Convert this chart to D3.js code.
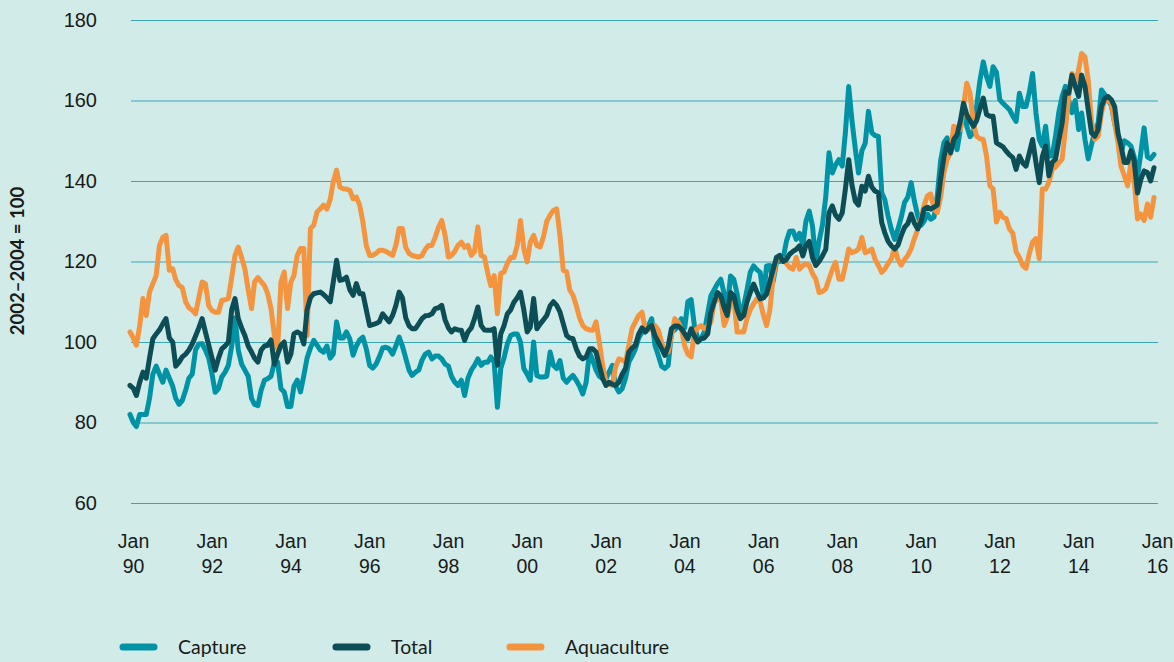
<!DOCTYPE html>
<html>
<head>
<meta charset="utf-8">
<script src="https://cdn.jsdelivr.net/npm/d3@7"></script>
<style>
  html, body { margin: 0; padding: 0; background: #d0ebe8; }
  svg { display: block; font-family: Lato, "Open Sans", sans-serif; }
</style>
</head>
<body>
<svg id="chart" width="1174" height="662"></svg>
<script>
// Monthly fish price index, 2002–2004 = 100, January 1990 to January 2016
const seriesNames = ["Capture", "Total", "Aquaculture"];
const firstMonth = new Date(1990, 0, 1);

const capture = [
  82, 80, 79, 82, 82, 82, 86, 92, 94, 92, 90, 93,
  91, 89, 86, 84.5, 85.5, 88, 91, 92, 98, 99.5, 99.6, 98,
  96, 92, 87.5, 88.5, 91.3, 92.5, 94.2, 99, 106, 98, 94.5, 93,
  91.5, 86, 84.5, 84.2, 88, 90.5, 90.9, 91.5, 95, 95, 88.4, 87.6,
  84, 84, 89, 90.5, 87.6, 91.7, 96, 98.5, 100.4, 99.2, 98, 97.5,
  99, 96, 97, 105, 101, 101, 102.5, 100.8, 96.7, 99, 100.5, 101.2,
  98.3, 94.2, 93.5, 94.5, 96.3, 98.5, 98.7, 98.3, 97, 99, 101.2, 99,
  96, 93, 91.7, 92.5, 93, 95.5, 97, 97.5, 95.8, 96.5, 96.5, 95.8,
  94.5, 94, 91.5, 90, 89.2, 90.5, 86.7, 91, 93, 94.2, 95.8, 94.2,
  95, 95, 96.3, 95, 83.8, 93.4, 96, 99.5, 101.6, 102, 102, 100,
  93.4, 92, 90.5, 100, 91.7, 91.3, 91.3, 91.5, 97.5, 94.2, 93.4, 95.4,
  91, 90, 90.9, 91.7, 90.5, 89, 87.1, 90, 97.5, 95.5, 93, 91.5,
  90.9, 90.9, 92.5, 94.2, 89, 87.6, 88.4, 91, 95, 96.5, 98.3, 101,
  102.5, 102.5, 104, 105.8, 99.2, 96.7, 94, 93.4, 94.2, 102.5, 103, 104,
  105.8, 103.5, 110, 110.5, 104, 100.8, 100.8, 102.5, 107, 111.5, 113, 114.5,
  115.6, 112, 108.2, 116.4, 115.6, 112, 106.6, 109, 113, 117.3, 118.9, 118,
  117.3, 111, 118.9, 119, 115, 119.8, 120, 120.6, 125, 127.5, 127.6, 125.5,
  127, 124, 130, 132.5, 128.8, 119.8, 125, 129, 136, 147, 142, 144,
  145.3, 143.7, 152, 163.5, 155, 148, 142, 147.5, 149.4, 157.3, 152, 151.3,
  151.1, 137.1, 135.4, 131.3, 128, 125.5, 128, 131, 134.7, 136, 139.6, 135,
  131.4, 129, 130, 131.8, 130.5, 131, 136.3, 145, 149.5, 150.7, 147, 150.3,
  147.8, 153, 158.5, 153.6, 151, 152, 158.5, 165, 169.6, 166, 163.5, 168.4,
  167, 160.2, 159.3, 158.5, 157.7, 156.1, 154.8, 161.8, 158.5, 158.5, 162, 166.7,
  157, 150.3, 148.7, 153.6, 146.2, 146.2, 151, 157, 161, 163.5, 160, 157,
  160, 152.8, 156.9, 150.3, 145.5, 149, 152.5, 154.4, 162.6, 161.5, 160, 158.9,
  154.4, 151.1, 147, 150, 149.5, 148.7, 146, 141, 147, 153.2, 146, 145.5,
  146.6
];

const total = [
  89.2, 88.5, 86.7, 90, 92.5, 91, 96, 100.8, 102, 103, 104.5, 105.8,
  101, 100, 94, 95, 96.3, 97, 98, 99.5, 101.5, 103.5, 105.8, 102.5,
  99.2, 96, 93, 96, 98.3, 99, 100, 108, 110.8, 105.8, 103.5, 101.6,
  99, 97.5, 96, 95, 98, 99, 99.2, 100.5, 94.5, 97, 99.2, 100,
  95, 97, 102, 102.5, 102, 99.5, 108, 111, 112, 112.2, 112.4, 111.8,
  111, 110, 114.9, 120.3, 115.3, 115.5, 116.1, 113, 111.6, 114.5, 112, 112,
  108, 104.1, 104.3, 104.6, 105, 107, 106, 105, 106.6, 109, 112.4, 111,
  106, 104, 103.3, 103.3, 104.5, 105.8, 106.5, 106.6, 107, 108.3, 108.5, 109.1,
  105.5, 103.5, 102.5, 103.3, 103, 102.9, 100.4, 102.5, 103.5, 105.8, 108.7, 104.1,
  103, 102.9, 102.9, 103.3, 94.2, 102, 104, 107, 108, 109.9, 111, 112.4,
  108, 102.5, 103.7, 110.8, 103.3, 104.5, 105.5, 106.6, 109, 110, 109.1, 107.5,
  104.5, 101.6, 101, 100.8, 98.3, 96.5, 95.8, 96.3, 98.3, 98.3, 97.5, 94.2,
  91, 89.2, 90, 89.5, 89.2, 90, 92, 93.4, 97.5, 98.5, 99.2, 102,
  103.5, 102.5, 103.5, 104.1, 101.6, 100, 98.4, 96.7, 99, 103.3, 104, 104,
  103.3, 102, 100.8, 103.3, 101.5, 100, 100.8, 101, 102, 107.4, 110, 112.3,
  111.5, 108.5, 106.6, 112.3, 111.5, 108, 105.8, 106.6, 110, 112.3, 114.4, 112.5,
  110.7, 111, 111.9, 115, 118, 121, 121.5, 120, 120.5, 121.8, 122.5, 123,
  123.9, 121.4, 124, 125, 121, 119, 120, 121.4, 123, 132.1, 133.8, 131.5,
  130.5, 132.1, 138, 145.3, 139, 135, 134, 138.7, 137.5, 141.2, 138.5, 137.5,
  137.1, 129.7, 127.2, 125, 123.9, 123.1, 124, 126.5, 128.5, 129.4, 131.8, 129.5,
  128.1, 130, 133, 133.5, 133, 133.5, 134, 140.4, 146, 149.5, 147, 150.3,
  151.5, 155, 159.3, 156.5, 155, 153.6, 155, 158, 160.6, 156.5, 156.1, 156.1,
  149.5, 149, 148.5, 147.4, 146.5, 145.8, 142.9, 146.2, 144.5, 143.7, 147, 150.3,
  144.6, 139.6, 146, 148.7, 141.3, 144.6, 145.4, 150, 154.4, 162.2, 161.8, 166.3,
  163.5, 161, 166.3, 163.5, 157.7, 151.9, 151.1, 152.8, 158.5, 160.5, 161, 160.2,
  158.5, 151.9, 148.7, 144.6, 144.6, 147.5, 145, 137, 140.4, 142.5, 142.1, 140,
  143.3
];

const aquaculture = [
  102.5, 101, 99.2, 104, 110.8, 106.6, 112.4, 114.5, 116.5, 124, 126, 126.5,
  117.8, 118.2, 115.5, 114, 113.5, 110, 108.5, 107.9, 107, 111, 114.9, 114.5,
  109, 107.8, 107.4, 107.4, 110.3, 110.5, 110.8, 116, 121.5, 123.6, 121, 118.2,
  113, 108.3, 114.9, 116, 115, 114, 112, 108.3, 101.6, 98.3, 114.9, 117.4,
  108.3, 114.9, 116.5, 121.5, 123.2, 123.2, 101.6, 128.2, 129, 132.3, 133.1, 134,
  133, 135.5, 139.8, 142.7, 138.5, 138.1, 138, 137.7, 135.6, 136, 134, 129.8,
  124, 121.5, 121.5, 122, 122.8, 122.8, 122.5, 122, 121.5, 124, 128.2, 128.2,
  123.5, 122, 121.5, 121.3, 121.1, 121.5, 123, 124, 124, 126, 128.5, 130.2,
  126.5, 121.1, 121.5, 122.5, 124, 124.8, 123.5, 124, 121.5, 122.5, 128.6, 121.5,
  121.1, 117, 114, 116.5, 107, 117, 117.4, 119.5, 121, 121, 124, 130.2,
  123.2, 119.9, 124.8, 126.5, 124, 123.6, 126.1, 130, 131.5, 132.7, 133.1, 126.5,
  117.8, 117.5, 113, 111.6, 109.1, 106, 104.1, 103.3, 103, 102.9, 105, 100,
  94.2, 90, 89.5, 89.2, 93.8, 95.8, 95.5, 95, 99.2, 103.3, 105, 106.6,
  107.4, 103, 103, 103.3, 104.1, 103, 100, 97.5, 97.5, 101.5, 105.8, 105,
  103.3, 99, 97, 96.3, 102.5, 103.5, 104.1, 103.3, 104, 105, 109.9, 110.5,
  110.7, 104.1, 106, 109.9, 110.7, 102.5, 102.5, 102.5, 105.8, 108, 109.5, 110.7,
  110, 106.6, 104.1, 108, 116, 120.5, 121, 120.6, 119.5, 118.5, 118.1, 121,
  118.1, 119, 119.4, 119, 117, 115.6, 112.3, 112.5, 113.2, 115.6, 118, 119.8,
  115.6, 115.6, 119, 123.1, 122.2, 122.5, 123.1, 126, 122.2, 122.5, 123.1, 120.6,
  119, 117.3, 118.1, 119.5, 120.6, 123.5, 120.5, 119.1, 120.5, 121.5, 123.2, 125.7,
  128, 130.6, 134, 136.3, 136.8, 133, 132.2, 136, 142.1, 145.4, 147, 153.6,
  153, 152.8, 158.5, 164.3, 161.8, 154.4, 151.1, 150.5, 150.3, 146.2, 138.8, 138,
  129.8, 132.2, 131, 130.6, 128.1, 127, 122.4, 121, 119, 118.3, 122, 124.8,
  125.7, 120.7, 138, 138, 139.6, 142.9, 143.5, 144.5, 145.4, 152.8, 161, 166.7,
  164.3, 167.6, 171.7, 170.8, 165.1, 154.4, 150.3, 151.1, 156.9, 160.2, 160, 159.3,
  154.4, 149.5, 143.7, 141.3, 138.8, 144.6, 140, 130.6, 131.8, 130.2, 134.3, 131,
  135.9
];

const yTicks = [60, 80, 100, 120, 140, 160, 180];
const xTickYears = [1990, 1992, 1994, 1996, 1998, 2000, 2002, 2004, 2006, 2008, 2010, 2012, 2014, 2016];
const yTitle = "2002–2004 = 100";

// ---- layout ----
const plot = { left: 130, right: 1154, top: 20, bottom: 503 };
const colors = { Capture: "#0093a6", Total: "#0c4d56", Aquaculture: "#f5943f" };
const gridColor = "#3aa6b4";

const svg = d3.select("#chart");

const x = d3.scaleTime()
  .domain([firstMonth, new Date(2016, 0, 1)])
  .range([plot.left, plot.right]);
const y = d3.scaleLinear().domain([60, 180]).range([plot.bottom, plot.top]);

// gridlines and value labels
const yAxis = d3.axisLeft(y)
  .tickValues(yTicks)
  .tickSize(-(plot.right - plot.left + 3))
  .tickPadding(34)
  .tickFormat(d3.format("d"));
const gy = svg.append("g")
  .attr("transform", `translate(${plot.left + 1},0)`)
  .call(yAxis);
gy.select(".domain").remove();
gy.selectAll(".tick line").attr("stroke", gridColor).attr("stroke-width", 1.1);
gy.selectAll(".tick text")
  .attr("fill", "#1a1a1a")
  .style("font-size", "20px");

// two-line month/year labels
const xAxis = d3.axisBottom(x)
  .tickValues(xTickYears.map(yr => new Date(yr, 0, 1)))
  .tickSize(0)
  .tickFormat(() => "");
const gx = svg.append("g")
  .attr("transform", `translate(0,${plot.bottom + 30})`)
  .call(xAxis);
gx.select(".domain").remove();
gx.selectAll(".tick text").each(function (d) {
  const t = d3.select(this)
    .attr("fill", "#1a1a1a")
    .attr("dy", null)
    .attr("y", 0)
    .style("font-size", "19.5px")
    .attr("text-anchor", "middle");
  t.append("tspan").attr("x", 3).attr("y", 15).text("Jan");
  t.append("tspan").attr("x", 3).attr("y", 40).text(d3.timeFormat("%y")(d));
});

// y-axis title
svg.append("text")
  .attr("transform", `translate(24,261) rotate(-90)`)
  .attr("text-anchor", "middle")
  .style("font-size", "18.5px")
  .style("font-weight", "bold")
  .attr("fill", "#1a1a1a")
  .text(yTitle);

// series lines
const line = d3.line()
  .x((d, i) => x(d3.timeMonth.offset(firstMonth, i)))
  .y(d => y(d));

const series = [
  { name: "Capture", values: capture },
  { name: "Aquaculture", values: aquaculture },
  { name: "Total", values: total }
];

svg.append("g")
  .selectAll("path")
  .data(series)
  .join("path")
  .attr("d", d => line(d.values))
  .attr("fill", "none")
  .attr("stroke", d => colors[d.name])
  .attr("stroke-width", 5)
  .attr("stroke-linejoin", "round")
  .attr("stroke-linecap", "round");

// legend
const legendX = [120, 333, 507];
const legend = svg.append("g").attr("transform", "translate(0,647)");
const items = legend.selectAll("g")
  .data(seriesNames)
  .join("g")
  .attr("transform", (d, i) => `translate(${legendX[i]},0)`);
items.append("line")
  .attr("x1", 3).attr("x2", 34)
  .attr("stroke", d => colors[d])
  .attr("stroke-width", 7)
  .attr("stroke-linecap", "round");
items.append("text")
  .attr("x", 58)
  .attr("dy", "0.35em")
  .style("font-size", "19.5px")
  .attr("fill", "#1a1a1a")
  .text(d => d);
</script>
</body>
</html>
